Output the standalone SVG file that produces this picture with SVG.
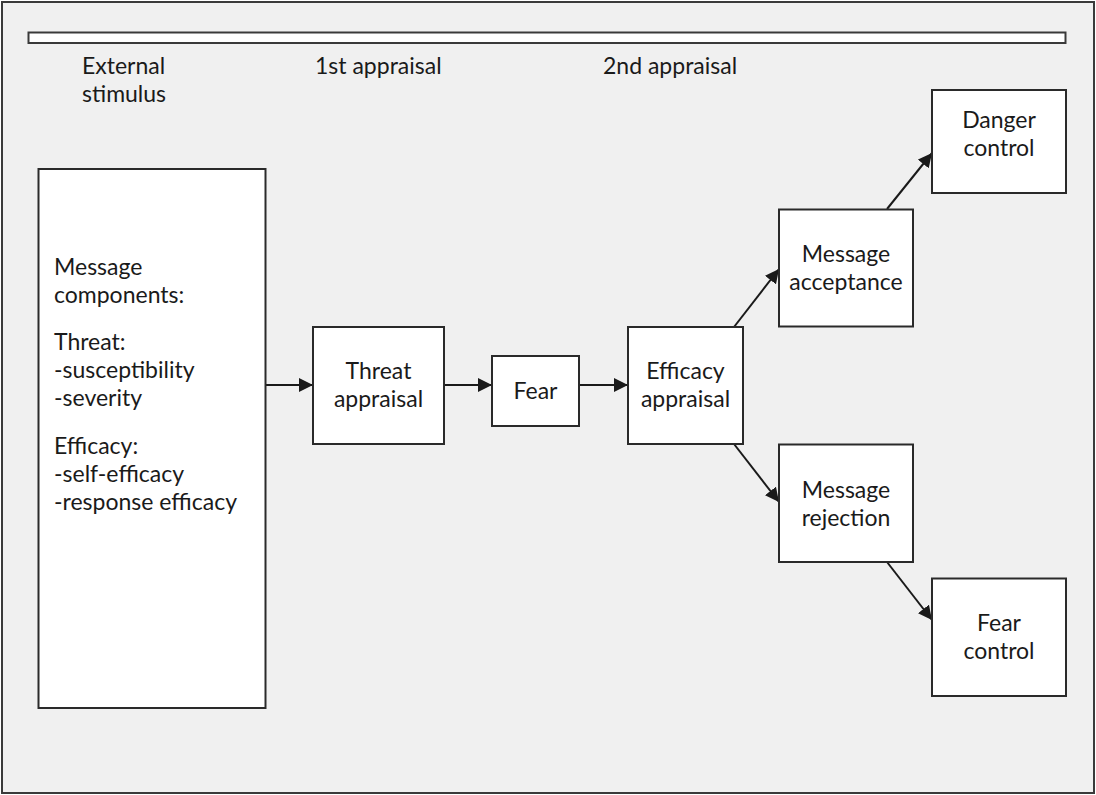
<svg xmlns="http://www.w3.org/2000/svg" width="1096" height="795" viewBox="0 0 1096 795">
<style>
.box{fill:#ffffff;stroke:#2a2a2a;stroke-width:2}
.t{font-family:Lato,"Liberation Sans",sans-serif;font-size:23px;fill:#1a1a1a}
.c{text-anchor:middle}
.ln{stroke:#1a1a1a;stroke-width:2;fill:none;marker-end:url(#ah)}
</style>
<defs>
<marker id="ah" viewBox="0 0 14 14" refX="14" refY="7" markerWidth="14" markerHeight="14" markerUnits="userSpaceOnUse" orient="auto">
<path d="M0,0 L14,7 L0,14 z" fill="#1a1a1a"/>
</marker>
</defs>
<rect x="0" y="0" width="1096" height="795" fill="#ffffff"/>
<rect x="2" y="2" width="1092" height="791" fill="#f0f0f0" stroke="#3a3a3a" stroke-width="2"/>
<rect x="28.5" y="32.5" width="1037" height="10.5" fill="#ffffff" stroke="#3a3a3a" stroke-width="2"/>
<g id="headers">
<text class="t" x="82" y="74">External</text>
<text class="t" x="82" y="102">stimulus</text>
<text class="t" x="315" y="74">1st appraisal</text>
<text class="t" x="603" y="74">2nd appraisal</text>
</g>
<g id="connectors">
<line class="ln" x1="265" y1="385" x2="313" y2="385"/>
<line class="ln" x1="444" y1="385" x2="492" y2="385"/>
<line class="ln" x1="579" y1="385" x2="628" y2="385"/>
<line class="ln" x1="734" y1="327" x2="779" y2="269"/>
<line class="ln" x1="887" y1="209" x2="932" y2="153"/>
<line class="ln" x1="734" y1="444" x2="779" y2="502"/>
<line class="ln" x1="887" y1="562" x2="932" y2="620"/>
</g>
<g id="message">
<rect class="box" x="38.5" y="169" width="227" height="539"/>
<text class="t" x="54" y="275">Message</text>
<text class="t" x="54" y="303">components:</text>
<text class="t" x="54" y="350">Threat:</text>
<text class="t" x="54" y="378">-susceptibility</text>
<text class="t" x="54" y="406">-severity</text>
<text class="t" x="54" y="454">Efficacy:</text>
<text class="t" x="54" y="482">-self-efficacy</text>
<text class="t" x="54" y="510">-response efficacy</text>
</g>
<g id="threat">
<rect class="box" x="313" y="327" width="131" height="117"/>
<text class="t c" x="378.5" y="379">Threat</text>
<text class="t c" x="378.5" y="407">appraisal</text>
</g>
<g id="fear">
<rect class="box" x="492" y="356" width="87" height="70"/>
<text class="t c" x="535.5" y="399">Fear</text>
</g>
<g id="efficacy">
<rect class="box" x="628" y="327" width="115" height="117"/>
<text class="t c" x="685.5" y="379">Efficacy</text>
<text class="t c" x="685.5" y="407">appraisal</text>
</g>
<g id="acceptance">
<rect class="box" x="779" y="209.5" width="134" height="117"/>
<text class="t c" x="846" y="262">Message</text>
<text class="t c" x="846" y="290">acceptance</text>
</g>
<g id="danger">
<rect class="box" x="932" y="90" width="134" height="103"/>
<text class="t c" x="999" y="128">Danger</text>
<text class="t c" x="999" y="156">control</text>
</g>
<g id="rejection">
<rect class="box" x="779" y="444.5" width="134" height="117.5"/>
<text class="t c" x="846" y="498">Message</text>
<text class="t c" x="846" y="526">rejection</text>
</g>
<g id="fearcontrol">
<rect class="box" x="932" y="578.5" width="134" height="117.5"/>
<text class="t c" x="999" y="631">Fear</text>
<text class="t c" x="999" y="659">control</text>
</g>
</svg>
